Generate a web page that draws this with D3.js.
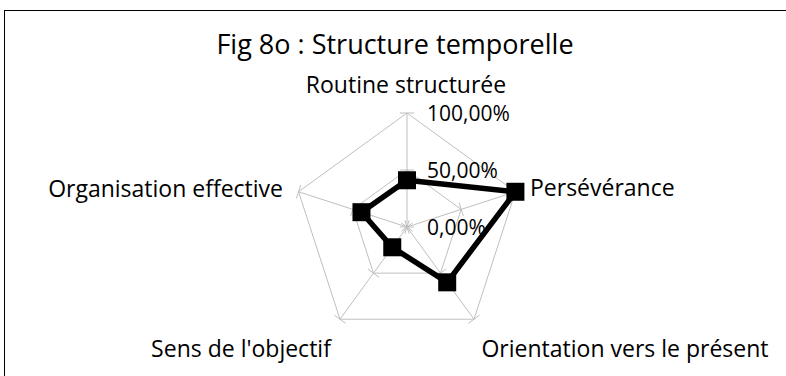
<!DOCTYPE html>
<html>
<head>
<meta charset="utf-8">
<script src="https://cdn.jsdelivr.net/npm/d3@7"></script>
<style>
body { margin: 0; background: #fff; }
text { font-family: "Open Sans", sans-serif; fill: #000; }
</style>
</head>
<body>
<svg id="chart" width="786" height="376"></svg>
<script>
// axes of the radar, clockwise from the top
var categories = ["Routine structurée", "Persévérance", "Orientation vers le présent", "Sens de l'objectif", "Organisation effective"];
var values = [0.41, 1.00, 0.60, 0.22, 0.42];
var tickValues = [0, 0.5, 1];
var tickLabels = ["0,00%", "50,00%", "100,00%"];

var svg = d3.select("#chart");
var cx = 407, cy = 227, radius = 114;

// chart area border
svg.append("rect")
	.attr("x", 4.5).attr("y", 10.5)
	.attr("width", 800).attr("height", 400)
	.attr("fill", "none")
	.attr("stroke", "#000")
	.attr("stroke-width", 1);

svg.append("text")
	.attr("x", 395).attr("y", 54)
	.attr("text-anchor", "middle")
	.style("font-size", "27px")
	.text("Fig 8o : Structure temporelle");

var r = d3.scaleLinear().domain([0, 1]).range([0, radius]);
var angle = d3.scalePoint().domain(categories).range([0, 2 * Math.PI * 4 / 5]);

function pt(cat, v) {
	var a = angle(cat);
	return [cx + r(v) * Math.sin(a), cy - r(v) * Math.cos(a)];
}

var g = svg.append("g");

// pentagon gridlines
tickValues.forEach(function(t) {
	if (t == 0) return;
	g.append("polygon")
		.attr("points", categories.map(function(c) { return pt(c, t).join(","); }).join(" "))
		.attr("fill", "none")
		.attr("stroke", "#bfbfbf")
		.attr("stroke-width", 1);
});

// spokes
categories.forEach(function(c) {
	var p = pt(c, 1);
	g.append("line")
		.attr("x1", cx).attr("y1", cy)
		.attr("x2", p[0]).attr("y2", p[1])
		.attr("stroke", "#bfbfbf");
});

// tick marks crossing each spoke
categories.forEach(function(c) {
	var a = angle(c);
	tickValues.forEach(function(t) {
		var p = pt(c, t);
		var dx = 7 * Math.cos(a), dy = 7 * Math.sin(a);
		g.append("line")
			.attr("x1", p[0] - dx).attr("y1", p[1] - dy)
			.attr("x2", p[0] + dx).attr("y2", p[1] + dy)
			.attr("stroke", "#bfbfbf");
	});
});

// value axis labels
tickValues.forEach(function(t, i) {
	svg.append("text")
		.attr("x", cx + 20).attr("y", cy - r(t) + 8)
		.style("font-size", "21px")
		.text(tickLabels[i]);
});

// series
var line = d3.line().curve(d3.curveLinearClosed);
var pts = categories.map(function(c, i) { return pt(c, values[i]); });
svg.append("path")
	.attr("d", line(pts))
	.attr("fill", "none")
	.attr("stroke", "#000")
	.attr("stroke-width", 5.5)
	.attr("stroke-linejoin", "round");

svg.selectAll("rect.marker")
	.data(pts)
	.enter().append("rect")
	.attr("class", "marker")
	.attr("x", function(d) { return d[0] - 9; })
	.attr("y", function(d) { return d[1] - 9; })
	.attr("width", 18).attr("height", 18)
	.attr("fill", "#000");

// category labels
var labelPos = [
	{x: 406, y: 93, anchor: "middle"},
	{x: 530, y: 196, anchor: "start"},
	{x: 625, y: 357, anchor: "middle"},
	{x: 241, y: 357, anchor: "middle"},
	{x: 283, y: 197, anchor: "end"}
];
categories.forEach(function(c, i) {
	svg.append("text")
		.attr("x", labelPos[i].x).attr("y", labelPos[i].y)
		.attr("text-anchor", labelPos[i].anchor)
		.style("font-size", "23px")
		.text(c);
});
</script>
</body>
</html>
